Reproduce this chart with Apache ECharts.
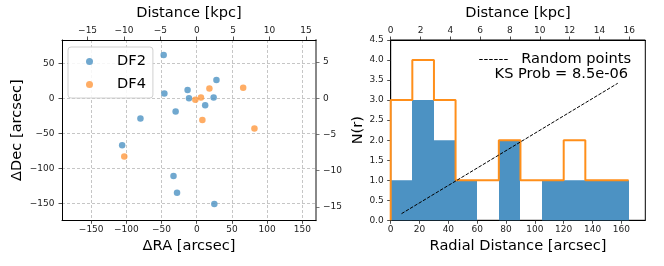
<!DOCTYPE html>
<html>
<head>
<meta charset="utf-8">
<script src="https://cdn.jsdelivr.net/npm/echarts@6/dist/echarts.min.js"></script>
<style>
html,body{margin:0;padding:0;background:#fff;}
#chart{width:664px;height:266px;}
</style>
</head>
<body>
<div id="chart"></div>
<script>
// ---- data ----
const kpcPerArcsec = 0.0967;
const df2RA  = [-47, -46, -13, -11, 28, 24, 12, -30, -80, -106, -33, -28, 25];
const df2Dec = [62, 7, 12, 0, 26, 1, -10, -19, -29, -67, -111, -135, -151];
const df4RA  = [-2, 6, 18, 66, 8, 82, -103];
const df4Dec = [-2, 1, 14, 15, -31, -43, -83];
const raTicks = [-150, -100, -50, 0, 50, 100, 150];
const decTicks = [-150, -100, -50, 0, 50];
const kpcTopTicks = [-15, -10, -5, 0, 5, 10, 15];
const kpcRightTicks = [-15, -10, -5, 0, 5];
const binEdges = [0, 15, 30, 45, 60, 75, 90, 105, 120, 135, 150, 165];
const df2Counts = [1, 3, 2, 1, 0, 2, 0, 1, 1, 1, 1];
const df4Counts = [3, 4, 3, 1, 1, 2, 1, 1, 2, 1, 1];
const randomX = [7.5, 157.5];
const randomY = [0.165, 3.42];
const radTicks = [0, 20, 40, 60, 80, 100, 120, 140, 160];
const radKpcTicks = [0, 2, 4, 6, 8, 10, 12, 14, 16];
const ksText = 'KS Prob = 8.5e-06';

// ---- ranges ----
const raMin = -191.5, raMax = 169.5, decMin = -174.3, decMax = 83.3;
const radMax = 176.6;

const FONT = 'DejaVu Sans';
const minus = v => String(v).replace('-', '\u2212');
const TICKC = '#222';

function axisBase(extra) {
  return Object.assign({
    type: 'value',
    axisLine: {show: true, onZero: false, lineStyle: {color: '#000', width: 1}},
    axisTick: {show: true, inside: false, length: 3.5, lineStyle: {color: TICKC, width: 0.8}},
    axisLabel: {fontSize: 9, color: TICKC, fontFamily: FONT, formatter: minus},
    splitLine: {show: false},
    nameTextStyle: {fontSize: 14.6, color: '#000', fontFamily: FONT},
    nameLocation: 'middle'
  }, extra);
}
const gridLine = {show: true, lineStyle: {color: '#b8b8b8', width: 0.8, type: [3, 2]}};

const df2Pts = df2RA.map((x, i) => [x, df2Dec[i]]);
const df4Pts = df4RA.map((x, i) => [x, df4Dec[i]]);
const barData = df2Counts.map((c, i) => [binEdges[i], binEdges[i + 1], c]);
const stepData = [[binEdges[0], 0]].concat(binEdges.map((e, i) => [e, i < df4Counts.length ? df4Counts[i] : df4Counts[df4Counts.length - 1]]));
const randomData = randomX.map((x, i) => [x, randomY[i]]);

const chart = echarts.init(document.getElementById('chart'), null, {renderer: 'canvas'});
chart.setOption({
  animation: false,
  backgroundColor: '#fff',
  textStyle: {fontFamily: FONT},
  title: {
    text: ksText, right: 36, top: 67, padding: 0,
    textStyle: {fontSize: 14.6, fontWeight: 'normal', color: '#000', fontFamily: FONT}
  },
  grid: [
    {left: 62, top: 40, width: 254, height: 180.3, containLabel: false},
    {left: 390.7, top: 40, width: 254.6, height: 180.3, containLabel: false,
     show: true, borderColor: '#000', borderWidth: 1, backgroundColor: 'transparent'}
  ],
  legend: [
    {
      data: ['DF2', 'DF4'], orient: 'vertical', left: 68, top: 47,
      padding: [7, 7, 6, 18], itemGap: 8, itemWidth: 25, itemHeight: 7,
      borderColor: '#d0d0d0', borderWidth: 1, borderRadius: 3,
      backgroundColor: 'rgba(255,255,255,0.85)',
      textStyle: {fontSize: 14.6, color: '#000', fontFamily: FONT, padding: [0, 0, 0, 10]},
      selectedMode: false
    },
    {
      data: ['Random points'], left: 478.7, top: 52, padding: 0,
      itemWidth: 29, itemHeight: 14,
      itemStyle: {opacity: 0, borderWidth: 0},
      lineStyle: {color: '#000', width: 1, type: [3.5, 1.5], opacity: 1},
      textStyle: {fontSize: 14.6, color: '#000', fontFamily: FONT, padding: [0, 0, 0, 8]},
      selectedMode: false
    }
  ],
  xAxis: [
    axisBase({gridIndex: 0, position: 'bottom', min: raMin, max: raMax,
      name: '\u0394RA [arcsec]', nameGap: 17,
      axisTick: {show: true, length: 3.5, customValues: raTicks, lineStyle: {color: TICKC, width: 0.8}},
      axisLabel: {fontSize: 9, color: TICKC, fontFamily: FONT, formatter: minus, margin: 5, customValues: raTicks},
      splitLine: gridLine}),
    axisBase({gridIndex: 0, position: 'top', min: raMin * kpcPerArcsec, max: raMax * kpcPerArcsec,
      name: 'Distance [kpc]', nameGap: 17,
      axisTick: {show: true, length: 3.5, customValues: kpcTopTicks, lineStyle: {color: TICKC, width: 0.8}},
      axisLabel: {fontSize: 9, color: TICKC, fontFamily: FONT, formatter: minus, margin: 5, customValues: kpcTopTicks}}),
    axisBase({gridIndex: 1, position: 'bottom', min: 0, max: radMax,
      name: 'Radial Distance [arcsec]', nameGap: 17,
      axisTick: {show: true, length: 3.5, customValues: radTicks, lineStyle: {color: TICKC, width: 0.8}},
      axisLabel: {fontSize: 9, color: TICKC, fontFamily: FONT, formatter: minus, margin: 5, customValues: radTicks}}),
    axisBase({gridIndex: 1, position: 'top', min: 0, max: radMax * kpcPerArcsec,
      name: 'Distance [kpc]', nameGap: 17,
      axisTick: {show: true, length: 3.5, customValues: radKpcTicks, lineStyle: {color: TICKC, width: 0.8}},
      axisLabel: {fontSize: 9, color: TICKC, fontFamily: FONT, formatter: minus, margin: 5, customValues: radKpcTicks}})
  ],
  yAxis: [
    axisBase({gridIndex: 0, position: 'left', min: decMin, max: decMax,
      name: '\u0394Dec [arcsec]', nameGap: 37,
      axisTick: {show: true, length: 3.5, customValues: decTicks, lineStyle: {color: TICKC, width: 0.8}},
      axisLabel: {fontSize: 9, color: TICKC, fontFamily: FONT, formatter: minus, margin: 7.5, customValues: decTicks},
      splitLine: gridLine}),
    axisBase({gridIndex: 0, position: 'right', min: decMin * kpcPerArcsec, max: decMax * kpcPerArcsec,
      axisLine: {show: true, onZero: false, lineStyle: {color: '#888', width: 2}},
      axisTick: {show: true, length: 3.5, customValues: kpcRightTicks, lineStyle: {color: '#555', width: 0.8}},
      axisLabel: {fontSize: 9, color: TICKC, fontFamily: FONT, formatter: minus, margin: 7, customValues: kpcRightTicks}}),
    axisBase({gridIndex: 1, position: 'left', min: 0, max: 4.5, interval: 0.5,
      name: 'N(r)', nameGap: 25,
      axisLabel: {fontSize: 9, color: TICKC, fontFamily: FONT, margin: 7, formatter: v => v.toFixed(1)}})
  ],
  series: [
    {name: 'DF2', type: 'scatter', xAxisIndex: 0, yAxisIndex: 0, data: df2Pts,
     symbolSize: 6.5, itemStyle: {color: '#4c92c3'}, z: 5},
    {name: 'DF4', type: 'scatter', xAxisIndex: 0, yAxisIndex: 0, data: df4Pts,
     symbolSize: 6.5, itemStyle: {color: '#ff993e'}, z: 5},
    {name: 'DF2 hist', type: 'custom', xAxisIndex: 2, yAxisIndex: 2, data: barData, z: 2,
     renderItem: function (params, api) {
       const p0 = api.coord([api.value(0), api.value(2)]);
       const p1 = api.coord([api.value(1), 0]);
       const x0 = Math.round(p0[0]), x1 = Math.round(p1[0]);
       return {type: 'rect', shape: {x: x0, y: p0[1], width: x1 - x0, height: p1[1] - p0[1]},
               style: {fill: '#4c92c3'}};
     }},
    {name: 'DF4 hist', type: 'line', xAxisIndex: 2, yAxisIndex: 2, data: stepData, step: 'end',
     showSymbol: false, symbol: 'none', z: 3,
     lineStyle: {color: '#ff8f1a', width: 2}},
    {name: 'Random points', type: 'line', xAxisIndex: 2, yAxisIndex: 2, data: randomData,
     showSymbol: false, symbol: 'none', z: 4, itemStyle: {color: '#000'},
     lineStyle: {color: '#000', width: 1, type: [3.5, 1.5]}}
  ]
});
</script>
</body>
</html>
